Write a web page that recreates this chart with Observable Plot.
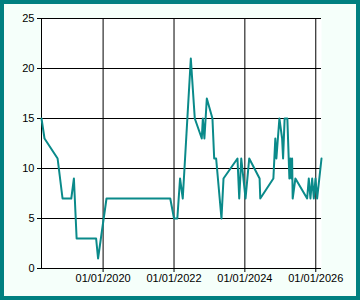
<!DOCTYPE html>
<html>
<head>
<meta charset="utf-8">
<script src="https://cdn.jsdelivr.net/npm/d3@7"></script>
<script src="https://cdn.jsdelivr.net/npm/@observablehq/plot@0.6"></script>
<style>
  html, body { margin: 0; padding: 0; background: #fff; }
  #wrap { position: relative; width: 360px; height: 300px; background: #F5FFFA; overflow: hidden; }
  #wrap::after { content: ""; position: absolute; left: 0; top: 0; right: 0; bottom: 0; border: 4px solid #008080; pointer-events: none; }
  #wrap svg { display: block; }
</style>
</head>
<body>
<div id="wrap"></div>
<script>
const dates = [
  "2018-04-06","2018-05-07","2018-09-19","2018-11-09","2019-02-07","2019-03-06","2019-04-03",
  "2019-10-21","2019-11-10","2020-02-05","2021-11-23","2022-01-01","2022-02-04","2022-03-04",
  "2022-04-01","2022-06-23","2022-08-03","2022-10-14","2022-10-25","2022-11-10","2022-12-05",
  "2023-02-01","2023-02-19","2023-03-11","2023-05-05","2023-05-26","2023-10-17","2023-11-04",
  "2023-11-25","2024-01-08","2024-02-15","2024-06-01","2024-06-08","2024-10-21","2024-10-31",
  "2024-11-10","2024-11-21","2024-12-22","2025-01-19","2025-01-29","2025-02-14","2025-03-14",
  "2025-04-04","2025-04-14","2025-04-25","2025-05-02","2025-05-08","2025-06-05","2025-10-04",
  "2025-10-21","2025-11-07","2025-11-25","2025-12-12","2025-12-29","2026-01-15","2026-03-01"
];
const values = [
  15,13,11,7,7,9,3,
  3,1,7,7,5,5,9,
  7,21,15,13,15,13,17,
  15,11,11,5,9,11,7,
  11,7,11,9,7,9,11,
  13,11,15,13,11,15,15,
  9,11,9,11,7,9,7,
  9,7,9,7,9,7,11
];
const yTicks = [0, 5, 10, 15, 20, 25];
const xTickLabels = ["01/01/2020", "01/01/2022", "01/01/2024", "01/01/2026"];

const parseTick = d3.utcParse("%m/%d/%Y");
const xTicks = xTickLabels.map(parseTick);
const data = dates.map((d, i) => ({date: new Date(d + "T00:00:00Z"), value: values[i]}));

const chart = Plot.plot({
  width: 360,
  height: 300,
  marginLeft: 41,
  marginRight: 39,
  marginTop: 18,
  marginBottom: 32,
  style: {fontFamily: "'Liberation Sans', Arial, sans-serif", fontSize: "11px", color: "#000", background: "transparent"},
  x: {type: "utc", ticks: xTicks, tickFormat: d3.utcFormat("%m/%d/%Y")},
  y: {domain: [0, 25], ticks: yTicks},
  marks: [
    Plot.frame({fill: "white", stroke: null}),
    Plot.gridY(yTicks, {stroke: "black", strokeOpacity: 1, strokeWidth: 1}),
    Plot.gridX(xTicks, {stroke: "black", strokeOpacity: 1, strokeWidth: 1}),
    Plot.ruleX([0], {x: () => data[0].date, stroke: "black", frameAnchor: "left"}),
    Plot.axisY(yTicks, {tickSize: 4, tickPadding: 3, label: null, stroke: "black", fill: "black"}),
    Plot.axisX(xTicks, {tickSize: 4, tickPadding: 2, label: null, tickFormat: d3.utcFormat("%m/%d/%Y"), stroke: "black", fill: "black"}),
    Plot.line(data, {x: "date", y: "value", stroke: "#0A8A8A", strokeWidth: 2})
  ]
});
document.getElementById("wrap").appendChild(chart);
</script>
</body>
</html>
